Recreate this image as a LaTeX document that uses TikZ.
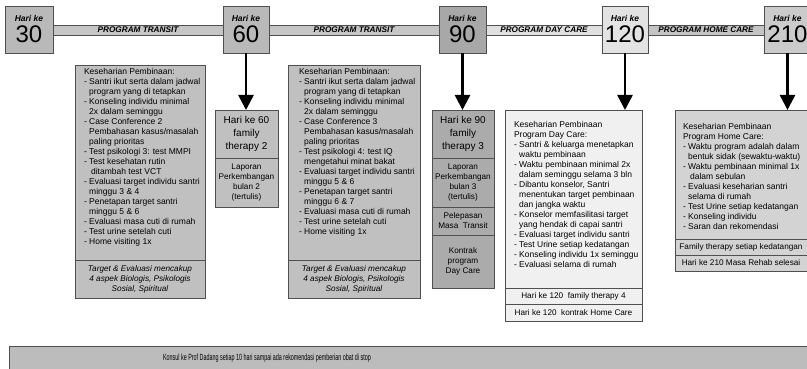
\documentclass[tikz,border=0pt]{standalone}
\usepackage{fontspec}
\setmainfont{Liberation Sans}
\usetikzlibrary{arrows.meta,calc}

\definecolor{edge}{HTML}{505050}
\definecolor{gday}{HTML}{B9B9B9}
\definecolor{gdaydark}{HTML}{A8A8A8}
\definecolor{gdaylight}{HTML}{E3E3E3}
\definecolor{gdayend}{HTML}{CBCBCB}
\definecolor{gbartransit}{HTML}{C6C6C6}
\definecolor{gbarday}{HTML}{E0E0E0}
\definecolor{gbarhome}{HTML}{C4C4C4}
\definecolor{gpanel}{HTML}{C0C0C0}
\definecolor{gpaneldark}{HTML}{ABABAB}
\definecolor{gpanellight}{HTML}{F0F0F0}
\definecolor{gpanelhome}{HTML}{D3D3D3}
\definecolor{gkonsul}{HTML}{BCBCBC}

\begin{document}
\begin{tikzpicture}[x=1pt,y=-1pt,
  every node/.style={inner sep=0pt, outer sep=0pt},
  panel/.style={draw=edge, line width=0.8pt, anchor=north west, align=center},
  daybox/.style={panel, minimum height=47pt},
  bar/.style={draw=edge, line width=0.8pt},
  barlabel/.style={font=\fontsize{8.2}{10}\selectfont\bfseries\itshape},
  harilabel/.style={font=\fontsize{8.5}{10}\selectfont\bfseries\itshape},
  daynum/.style={font=\fontsize{24}{26}\selectfont},
  listtext/.style={anchor=north west, align=left, font=\fontsize{8.5}{10}\selectfont},
  note/.style={font=\fontsize{8.2}{10}\selectfont},
  notei/.style={font=\fontsize{8.2}{10}\selectfont\itshape},
  bignote/.style={font=\fontsize{10}{13}\selectfont},
  arrowline/.style={line width=2.6pt, -{Triangle[length=15pt,width=15pt]}}
]
\clip (0,0) rectangle (807,369);
\fill[white] (0,0) rectangle (807,369);

% timeline day markers
\node[daybox, fill=gday,      minimum width=48pt] (d30)  at (5,6)   {};
\node[daybox, fill=gday,      minimum width=46pt] (d60)  at (223,6) {};
\node[daybox, fill=gdaydark,  minimum width=47pt] (d90)  at (439,6) {};
\node[daybox, fill=gdaylight, minimum width=46pt] (d120) at (602,6) {};
\node[daybox, fill=gdayend,   minimum width=47pt] (d210) at (764,6) {};

% program bars between the markers
\coordinate (bartop) at (0,25);
\coordinate (barbot) at (0,35);
\draw[bar, fill=gbartransit] (d30.east |- bartop) rectangle (d60.west |- barbot);
\draw[bar, fill=gbartransit] (d60.east |- bartop) rectangle (d90.west |- barbot);
\draw[bar, fill=gbarday]     (d90.east |- bartop) rectangle (d120.west |- barbot);
\draw[bar, fill=gbarhome]    (d120.east |- bartop) rectangle (d210.west |- barbot);
\node[barlabel] at ($(d30.east)!0.5!(d60.west)$)  {PROGRAM TRANSIT};
\node[barlabel] at ($(d60.east)!0.5!(d90.west)$)  {PROGRAM TRANSIT};
\node[barlabel] at ($(d90.east)!0.5!(d120.west)$) {PROGRAM DAY CARE};
\node[barlabel] at ($(d120.east)!0.5!(d210.west)$) {PROGRAM HOME CARE};

% labels inside the markers
\foreach \d in {30,60,90,120,210}{
  \node[harilabel] at ([yshift=11.5pt]d\d.center) {Hari ke};
  \node[daynum]    at ([yshift=-4.5pt]d\d.center) {\d};
}

% transit month 1
\node[panel, fill=gpanel, minimum width=130pt, minimum height=195pt] (a1) at (75,65) {};
\node[panel, fill=gpanel, minimum width=130pt, minimum height=38pt]  (a2) at (75,260) {};
\node[listtext] (a1txt) at (84,68.5) {Keseharian Pembinaan:\\
- Santri ikut serta dalam jadwal\\
\hphantom{- }program yang di tetapkan\\
- Konseling individu minimal\\
\hphantom{- }2x dalam seminggu\\
- Case Conference 2\\
\hphantom{- }Pembahasan kasus/masalah\\
\hphantom{- }paling prioritas\\
- Test psikologi 3: test MMPI\\
- Test kesehatan rutin\\
\hphantom{- i}ditambah test VCT\\
- Evaluasi target individu santri\\
\hphantom{- }minggu 3 \& 4\\
- Penetapan target santri\\
\hphantom{- }minggu 5 \& 6\\
- Evaluasi masa cuti di rumah\\
- Test urine setelah cuti\\
- Home visiting 1x};
\node[notei, align=center] at (a2.center) {Target \& Evaluasi mencakup\\4 aspek Biologis, Psikologis\\Sosial, Spiritual};

% day 60
\node[panel, fill=gpanel, minimum width=63pt, minimum height=48pt, bignote] (b60a) at (215,110) {Hari ke 60\\family\\therapy 2};
\node[panel, fill=gpanel, minimum width=63pt, minimum height=49pt, note]    (b60b) at (215,158) {Laporan\\Perkembangan\\bulan 2\\(tertulis)};
\draw[arrowline] (d60.south) -- (d60.south |- b60a.north);

% transit month 2
\node[panel, fill=gpanel, minimum width=132pt, minimum height=195pt] (c1) at (288,65) {};
\node[panel, fill=gpanel, minimum width=132pt, minimum height=38pt]  (c2) at (288,260) {};
\node[listtext] (c1txt) at (299,68.5) {Keseharian Pembinaan:\\
- Santri ikut serta dalam jadwal\\
\hphantom{- }program yang di tetapkan\\
- Konseling individu minimal\\
\hphantom{- }2x dalam seminggu\\
- Case Conference 3\\
\hphantom{- }Pembahasan kasus/masalah\\
\hphantom{- }paling prioritas\\
- Test psikologi 4: test IQ\\
\hphantom{- }mengetahui minat bakat\\
- Evaluasi target individu santri\\
\hphantom{- }minggu 5 \& 6\\
- Penetapan target santri\\
\hphantom{- }minggu 6 \& 7\\
- Evaluasi masa cuti di rumah\\
- Test urine setelah cuti\\
- Home visiting 1x};
\node[notei, align=center] at (c2.center) {Target \& Evaluasi mencakup\\4 aspek Biologis, Psikologis\\Sosial, Spiritual};

% day 90
\node[panel, fill=gpaneldark, minimum width=62pt, minimum height=48pt, bignote] (e90a) at (432,110) {Hari ke 90\\family\\therapy 3};
\node[panel, fill=gpaneldark, minimum width=62pt, minimum height=49pt, note]    (e90b) at (432,158) {Laporan\\Perkembangan\\bulan 3\\(tertulis)};
\node[panel, fill=gpaneldark, minimum width=62pt, minimum height=28pt, note]    (e90c) at (432,207) {Pelepasan\\Masa~~Transit};
\node[panel, fill=gpaneldark, minimum width=62pt, minimum height=53pt, note]    (e90d) at (432,235) {Kontrak\\program\\Day Care};
\draw[arrowline] (d90.south) -- (d90.south |- e90a.north);

% day care
\node[panel, fill=gpanellight, minimum width=137pt, minimum height=178pt] (f1) at (505,110) {};
\node[panel, fill=gpanellight, minimum width=137pt, minimum height=16pt, note] (f2) at (505,288) {Hari ke 120~~family therapy 4};
\node[panel, fill=gpanellight, minimum width=137pt, minimum height=17pt, note] (f3) at (505,304) {Hari ke 120~~kontrak Home Care};
\node[listtext] (f1txt) at (514,121.5) {Keseharian Pembinaan\\
Program Day Care:\\
- Santri \& keluarga menetapkan\\
\hphantom{- }waktu pembinaan\\
- Waktu pembinaan minimal 2x\\
\hphantom{- }dalam seminggu selama 3 bln\\
- Dibantu konselor, Santri\\
\hphantom{- }menentukan target pembinaan\\
\hphantom{- }dan jangka waktu\\
- Konselor memfasilitasi target\\
\hphantom{- }yang hendak di capai santri\\
- Evaluasi target individu santri\\
- Test Urine setiap kedatangan\\
- Konseling individu 1x seminggu\\
- Evaluasi selama di rumah};
\draw[arrowline] (d120.south) -- (d120.south |- f1.north);

% home care
\node[panel, fill=gpanelhome, minimum width=137pt, minimum height=129pt] (g1) at (675,110) {};
\node[panel, fill=gpanelhome, minimum width=137pt, minimum height=16pt] (g2) at (675,239) {};
\node[panel, fill=gpanelhome, minimum width=137pt, minimum height=16pt] (g3) at (675,255) {};
\node[note] at ($(g2.west)+(66,0)$) {Family therapy setiap kedatangan};
\node[note] at ($(g3.west)+(66,0)$) {Hari ke 210 Masa Rehab selesai};
\node[listtext] (g1txt) at (683,123.5) {Keseharian Pembinaan\\
Program Home Care:\\
- Waktu program adalah dalam\\
\hphantom{- }bentuk sidak (sewaktu-waktu)\\
- Waktu pembinaan minimal 1x\\
\hphantom{- i}dalam sebulan\\
- Evaluasi keseharian santri\\
\hphantom{- }selama di rumah\\
- Test Urine setiap kedatangan\\
- Konseling individu\\
- Saran dan rekomendasi};
\draw[arrowline] (d210.south) -- (d210.south |- g1.north);

% consultation strip
\node[panel, fill=gkonsul, minimum width=803pt, minimum height=30pt] (k) at (9,346) {};
\node at (267,358) {\scalebox{0.6}[1]{\fontsize{9}{10}\selectfont Konsul ke Prof Dadang setiap 10 hari sampai ada rekomendasi pemberian obat di stop}};
\end{tikzpicture}
\end{document}
